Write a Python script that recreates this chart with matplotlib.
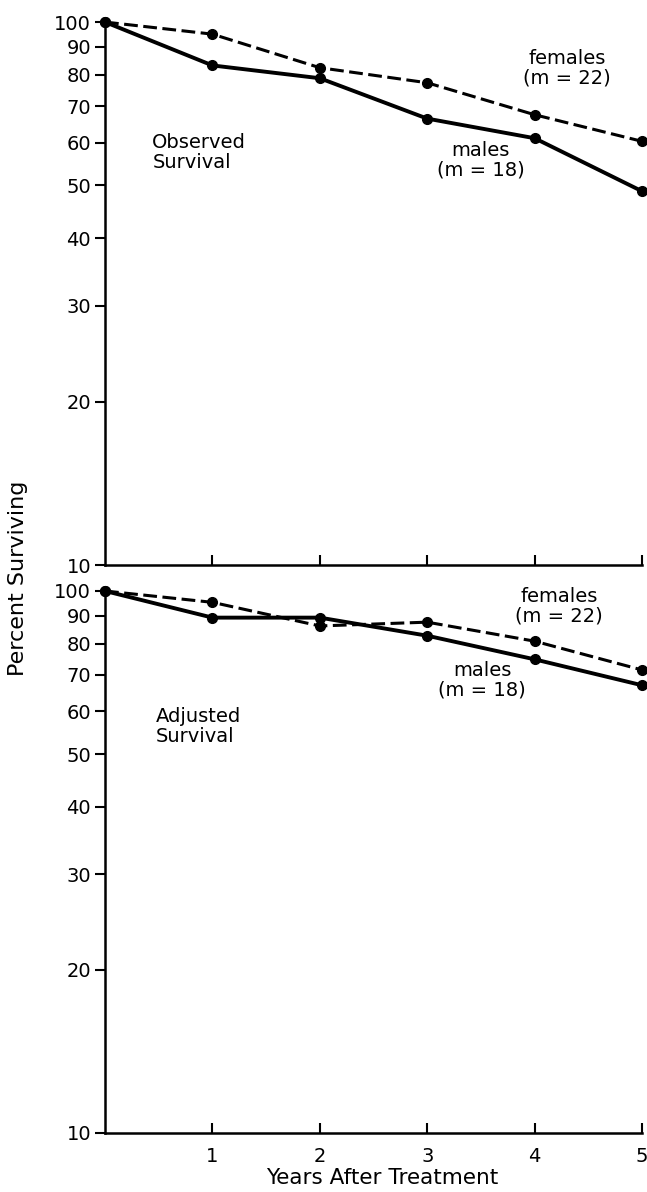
import matplotlib
matplotlib.use("Agg")
import matplotlib.pyplot as plt
from matplotlib.ticker import FixedLocator, NullLocator, FixedFormatter

plt.rcParams['font.family'] = ['DejaVu Sans']

years = [0, 1, 2, 3, 4, 5]
y_ticks = [10, 20, 30, 40, 50, 60, 70, 80, 90, 100]
x_ticks = [1, 2, 3, 4, 5]

# observed survival (%)
obs_males = [100, 83.2, 78.8, 66.4, 61.1, 48.8]
obs_females = [100, 95.0, 82.4, 77.3, 67.5, 60.3]

# adjusted survival (%)
adj_males = [100, 89.3, 89.3, 82.7, 74.8, 67.0]
adj_females = [100, 95.3, 86.2, 87.6, 80.8, 71.5]

FS = 14

fig = plt.figure(figsize=(6.47, 11.92), dpi=100)
ax_top = fig.add_axes([0.1623, 0.526, 0.830, 0.4555])
ax_bot = fig.add_axes([0.1623, 0.0495, 0.830, 0.4547])


def style_axis(ax, show_xlabels):
    ax.set_yscale('log')
    ax.set_ylim(10, 100)
    ax.set_xlim(0, 5)
    ax.yaxis.set_major_locator(FixedLocator(y_ticks))
    ax.yaxis.set_major_formatter(FixedFormatter([str(v) for v in y_ticks]))
    ax.yaxis.set_minor_locator(NullLocator())
    ax.xaxis.set_major_locator(FixedLocator(x_ticks))
    ax.xaxis.set_minor_locator(NullLocator())
    for s in ['top', 'right']:
        ax.spines[s].set_visible(False)
    for s in ['left', 'bottom']:
        ax.spines[s].set_linewidth(1.8)
    ax.tick_params(axis='y', direction='out', length=7, width=1.5,
                   labelsize=FS, pad=3)
    ax.tick_params(axis='x', direction='in', length=7, width=1.5,
                   labelsize=FS, pad=10, labelbottom=show_xlabels)


def draw_panel(ax, males, females, title, fem_pos, male_pos, title_pos):
    ax.plot(years, females, color='black', lw=2.2, dashes=(4.5, 1.8),
            marker='o', ms=7, clip_on=False, zorder=3)
    ax.plot(years, males, color='black', lw=2.8,
            marker='o', ms=7, clip_on=False, zorder=3)
    ax.text(fem_pos[0], fem_pos[1], 'females\n(m = 22)', ha='center',
            va='center', fontsize=FS, linespacing=1.05)
    ax.text(male_pos[0], male_pos[1], 'males\n(m = 18)', ha='center',
            va='center', fontsize=FS, linespacing=1.05)
    ax.text(title_pos[0], title_pos[1], title, ha='left',
            va='center', fontsize=FS, linespacing=1.05)


style_axis(ax_top, False)
style_axis(ax_bot, True)

draw_panel(ax_top, obs_males, obs_females, 'Observed\nSurvival',
           (4.3, 82.3), (3.5, 55.7), (0.44, 57.6))
draw_panel(ax_bot, adj_males, adj_females, 'Adjusted\nSurvival',
           (4.23, 93.8), (3.51, 68.5), (0.47, 56.3))

fig.text(0.590, 0.0117, 'Years After Treatment', ha='center', va='center',
         fontsize=15.5)
fig.text(0.028, 0.515, 'Percent Surviving', rotation=90, ha='center',
         va='center', fontsize=16)

fig.savefig('out.png', dpi=100, facecolor='white')
